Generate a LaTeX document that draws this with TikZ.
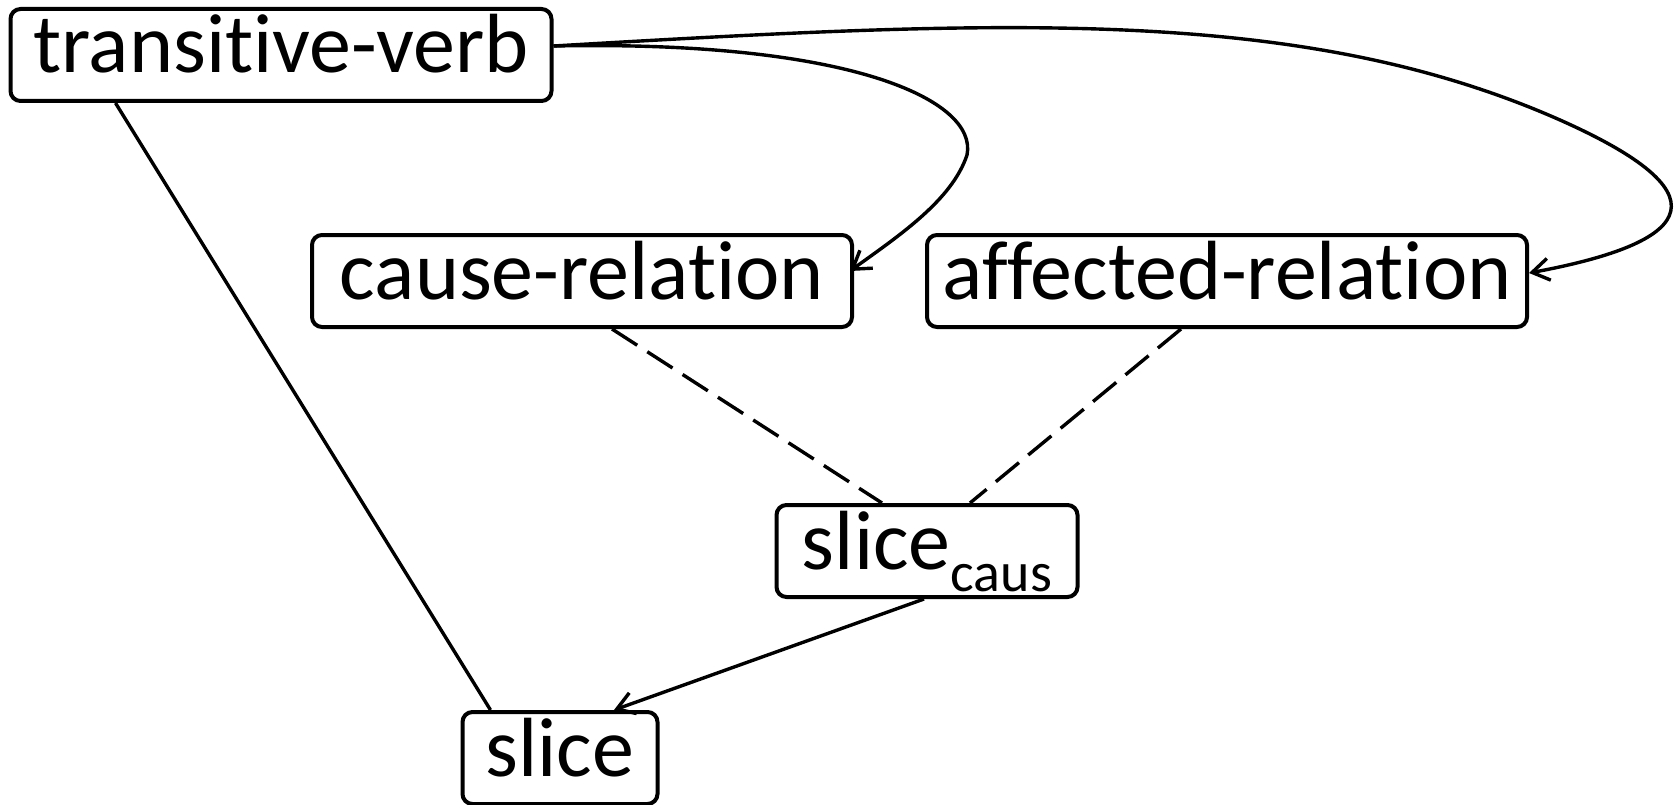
\documentclass[tikz,border=0pt]{standalone}
\usepackage{fontspec}
\setmainfont{Carlito}[Ligatures={NoCommon}]
\usetikzlibrary{arrows.meta}
\tikzset{
  box/.style={draw, line width=4pt, rounded corners=10pt, inner xsep=0pt, inner ysep=4pt,
    text height=60pt, text depth=24pt, minimum height=92pt, align=center,
    font=\fontsize{84}{100}\selectfont},
  edge/.style={line width=3.4pt},
  arr/.style={edge, -{Straight Barb[length=17pt,width=22pt,line width=3.4pt]}},
  dashedge/.style={edge, dash pattern=on 30pt off 12pt},
}
\begin{document}
\begin{tikzpicture}[x=1pt,y=-1pt]
\useasboundingbox (0,0) rectangle (1675,805);
\node[box, minimum width=541pt] (tv) at (281,55) {transitive-verb};
\node[box, minimum width=540pt] (cr) at (582,281) {cause-relation};
\node[box, minimum width=600pt] (ar) at (1227,281) {affected-relation};
\node[box, minimum width=301pt] (sc) at (927,551) {slice\raisebox{-22pt}{\fontsize{56}{60}\selectfont caus}};
\node[box, minimum width=195pt] (sl) at (560,758) {slice};
\coordinate (tvout) at ([yshift=9pt]tv.east);
\draw[edge] ([xshift=107pt]tv.south west) -- ([xshift=30pt]sl.north west);
\draw[arr] (tvout) .. controls (850,40) and (978,100) .. (967,155)
  .. controls (952,200) and (900,235) .. ([yshift=10pt,xshift=-4pt]cr.east);
\draw[arr] (tvout) .. controls (1000,20) and (1300,5) .. (1560,120)
  .. controls (1740,200) and (1680,245) .. ([yshift=8pt]ar.east);
\draw[dashedge] ([xshift=30pt]cr.south) -- ([xshift=-45pt]sc.north);
\draw[dashedge] ([xshift=-46pt]ar.south) -- ([xshift=43pt]sc.north);
\draw[arr] ([xshift=-3pt]sc.south) -- ([xshift=54pt]sl.north);
\end{tikzpicture}
\end{document}
